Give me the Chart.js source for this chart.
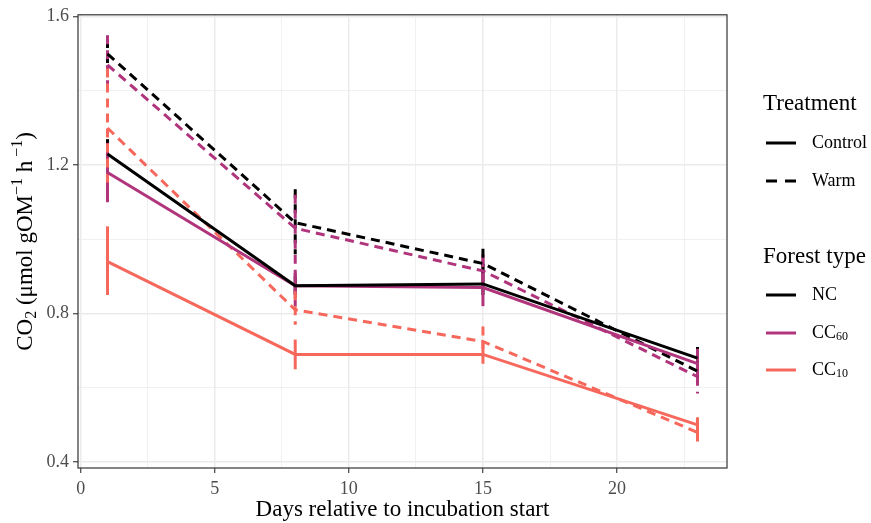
<!DOCTYPE html>
<html lang="en">
<head>
    <meta charset="UTF-8">
    <title>CO2 incubation</title>
    <script src="https://cdn.jsdelivr.net/npm/chart.js"></script>
    <style>
        body {
            margin: 0;
            background-color: #ffffff;
        }
        canvas {
            display: block;
        }
    </style>
</head>
<body>
    <canvas id="co2Chart" width="871" height="523"></canvas>

    <script>
        // sampling days
        const days = [1, 8, 15, 23];

        // mean CO2 rates and error bar limits per forest type / treatment
        const ncControl = [1.23, 0.875, 0.88, 0.68];
        const ncControlLow = [1.19, 0.85, 0.85, 0.65];
        const ncControlHigh = [1.27, 0.90, 0.91, 0.71];

        const cc60Control = [1.18, 0.875, 0.87, 0.665];
        const cc60ControlLow = [1.10, 0.84, 0.82, 0.61];
        const cc60ControlHigh = [1.26, 0.91, 0.96, 0.705];

        const cc10Control = [0.94, 0.69, 0.69, 0.50];
        const cc10ControlLow = [0.85, 0.65, 0.665, 0.47];
        const cc10ControlHigh = [1.035, 0.73, 0.72, 0.52];

        const ncWarm = [1.50, 1.045, 0.935, 0.645];
        const ncWarmLow = [1.45, 0.96, 0.90, 0.62];
        const ncWarmHigh = [1.54, 1.135, 0.975, 0.67];

        const cc60Warm = [1.47, 1.03, 0.915, 0.63];
        const cc60WarmLow = [1.40, 0.82, 0.87, 0.585];
        const cc60WarmHigh = [1.55, 1.12, 0.95, 0.67];

        const cc10Warm = [1.30, 0.81, 0.725, 0.48];
        const cc10WarmLow = [1.14, 0.77, 0.705, 0.44];
        const cc10WarmHigh = [1.46, 0.86, 0.765, 0.52];

        const xTicks = [0, 2.5, 5, 7.5, 10, 12.5, 15, 17.5, 20, 22.5];
        const yTicks = [0.4, 0.6, 0.8, 1.0, 1.2, 1.4, 1.6];

        const colNC = '#000000';
        const colCC60 = '#B0357C';
        const colCC10 = '#F6685C';
        const dash = [9, 6];
        const serif = '"Liberation Serif", "Times New Roman", serif';

        function series(label, values, low, high, color, warm) {
            return {
                label: label,
                data: days.map((d, i) => ({ x: d, y: values[i] })),
                low: low,
                high: high,
                borderColor: color,
                borderWidth: 3,
                borderDash: warm ? dash : [],
                pointRadius: 0,
                fill: false,
                tension: 0
            };
        }

        const datasets = [
            series('NC Control', ncControl, ncControlLow, ncControlHigh, colNC, false),
            series('CC60 Control', cc60Control, cc60ControlLow, cc60ControlHigh, colCC60, false),
            series('CC10 Control', cc10Control, cc10ControlLow, cc10ControlHigh, colCC10, false),
            series('NC Warm', ncWarm, ncWarmLow, ncWarmHigh, colNC, true),
            series('CC60 Warm', cc60Warm, cc60WarmLow, cc60WarmHigh, colCC60, true),
            series('CC10 Warm', cc10Warm, cc10WarmLow, cc10WarmHigh, colCC10, true)
        ];

        const isMajor = v => Math.abs(v * 5 - Math.round(v * 5)) < 1e-6 && Math.round(v * 10) % 4 === 0;

        // write a run of text pieces, each piece { t, size, dy }
        function richText(ctx, parts, x, y) {
            let cx = x;
            parts.forEach(p => {
                ctx.font = p.size + 'px ' + serif;
                ctx.fillText(p.t, cx, y + (p.dy || 0));
                cx += ctx.measureText(p.t).width;
            });
            return cx - x;
        }
        function richWidth(ctx, parts) {
            let w = 0;
            parts.forEach(p => {
                ctx.font = p.size + 'px ' + serif;
                w += ctx.measureText(p.t).width;
            });
            return w;
        }

        // vertical error bars under the lines
        const errorBars = {
            id: 'errorBars',
            beforeDatasetsDraw(chart) {
                const ctx = chart.ctx;
                const xs = chart.scales.x;
                const ys = chart.scales.y;
                ctx.save();
                chart.data.datasets.forEach(ds => {
                    ctx.strokeStyle = ds.borderColor;
                    ctx.lineWidth = 3;
                    ctx.setLineDash(ds.borderDash);
                    days.forEach((d, i) => {
                        const px = xs.getPixelForValue(d);
                        ctx.beginPath();
                        ctx.moveTo(px, ys.getPixelForValue(ds.high[i]));
                        ctx.lineTo(px, ys.getPixelForValue(ds.low[i]));
                        ctx.stroke();
                    });
                });
                ctx.restore();
            }
        };

        // panel border, axis titles and legend
        const decorations = {
            id: 'decorations',
            afterDraw(chart) {
                const ctx = chart.ctx;
                const a = chart.chartArea;
                ctx.save();
                ctx.strokeStyle = '#333333';
                ctx.lineWidth = 1.2;
                ctx.setLineDash([]);
                ctx.strokeRect(a.left, a.top, a.right - a.left, a.bottom - a.top);

                ctx.fillStyle = '#000000';
                ctx.textBaseline = 'middle';

                // x title
                ctx.font = '23px ' + serif;
                ctx.textAlign = 'center';
                ctx.fillText('Days relative to incubation start', (a.left + a.right) / 2, 510);

                // y title with sub/superscripts
                ctx.textAlign = 'left';
                const yTitle = [
                    { t: 'CO', size: 23 },
                    { t: '2', size: 16, dy: 6 },
                    { t: ' (\u03bcmol gOM', size: 23 },
                    { t: '\u22121', size: 16, dy: -8 },
                    { t: ' h', size: 23 },
                    { t: ' \u22121', size: 16, dy: -8 },
                    { t: ')', size: 23 }
                ];
                ctx.save();
                ctx.translate(26, (a.top + a.bottom) / 2);
                ctx.rotate(-Math.PI / 2);
                richText(ctx, yTitle, -richWidth(ctx, yTitle) / 2, 0);
                ctx.restore();

                // legend
                const entries = [
                    { title: 'Treatment', y: 104 },
                    { parts: [{ t: 'Control', size: 18 }], color: colNC, dashed: false, y: 143 },
                    { parts: [{ t: 'Warm', size: 18 }], color: colNC, dashed: true, y: 181 },
                    { title: 'Forest type', y: 257 },
                    { parts: [{ t: 'NC', size: 18 }], color: colNC, dashed: false, y: 295 },
                    { parts: [{ t: 'CC', size: 18 }, { t: '60', size: 12, dy: 4 }], color: colCC60, dashed: false, y: 333 },
                    { parts: [{ t: 'CC', size: 18 }, { t: '10', size: 12, dy: 4 }], color: colCC10, dashed: false, y: 370 }
                ];
                entries.forEach(e => {
                    if (e.title) {
                        ctx.fillStyle = '#000000';
                        ctx.font = '23px ' + serif;
                        ctx.fillText(e.title, 763, e.y);
                        return;
                    }
                    ctx.strokeStyle = e.color;
                    ctx.lineWidth = 3;
                    ctx.setLineDash(e.dashed ? [11, 8] : []);
                    ctx.beginPath();
                    ctx.moveTo(766, e.y);
                    ctx.lineTo(796, e.y);
                    ctx.stroke();
                    ctx.setLineDash([]);
                    ctx.fillStyle = '#000000';
                    richText(ctx, e.parts, 812, e.y);
                });
                ctx.restore();
            }
        };

        const ctx = document.getElementById('co2Chart').getContext('2d');
        new Chart(ctx, {
            type: 'line',
            data: { datasets: datasets },
            options: {
                responsive: false,
                animation: false,
                layout: { padding: { top: 9, right: 144, left: 0, bottom: 0 } },
                plugins: {
                    legend: { display: false },
                    tooltip: { enabled: false }
                },
                scales: {
                    x: {
                        type: 'linear',
                        min: -0.1,
                        max: 24.1,
                        afterBuildTicks: s => { s.ticks = xTicks.map(v => ({ value: v })); },
                        afterFit: s => { s.height = 55; },
                        border: { display: false },
                        grid: {
                            color: '#EBEBEB',
                            lineWidth: c => (c.tick && c.tick.value % 5 === 0) ? 1.5 : 0.7,
                            tickColor: c => (c.tick && c.tick.value % 5 === 0) ? '#333333' : 'rgba(0,0,0,0)',
                            tickLength: 5,
                            tickWidth: 1.1
                        },
                        ticks: {
                            color: '#4D4D4D',
                            font: { family: serif, size: 18 },
                            padding: 5,
                            maxRotation: 0,
                            autoSkip: false,
                            callback: v => (v % 5 === 0) ? String(v) : ''
                        }
                    },
                    y: {
                        min: 0.384,
                        max: 1.605,
                        afterBuildTicks: s => { s.ticks = yTicks.map(v => ({ value: v })); },
                        afterFit: s => { s.width = 78; },
                        border: { display: false },
                        grid: {
                            color: '#EBEBEB',
                            lineWidth: c => (c.tick && isMajor(c.tick.value)) ? 1.5 : 0.7,
                            tickColor: c => (c.tick && isMajor(c.tick.value)) ? '#333333' : 'rgba(0,0,0,0)',
                            tickLength: 5,
                            tickWidth: 1.1
                        },
                        ticks: {
                            color: '#4D4D4D',
                            font: { family: serif, size: 18 },
                            padding: 4,
                            autoSkip: false,
                            callback: v => isMajor(v) ? v.toFixed(1) : ''
                        }
                    }
                }
            },
            plugins: [errorBars, decorations]
        });
    </script>
</body>
</html>
